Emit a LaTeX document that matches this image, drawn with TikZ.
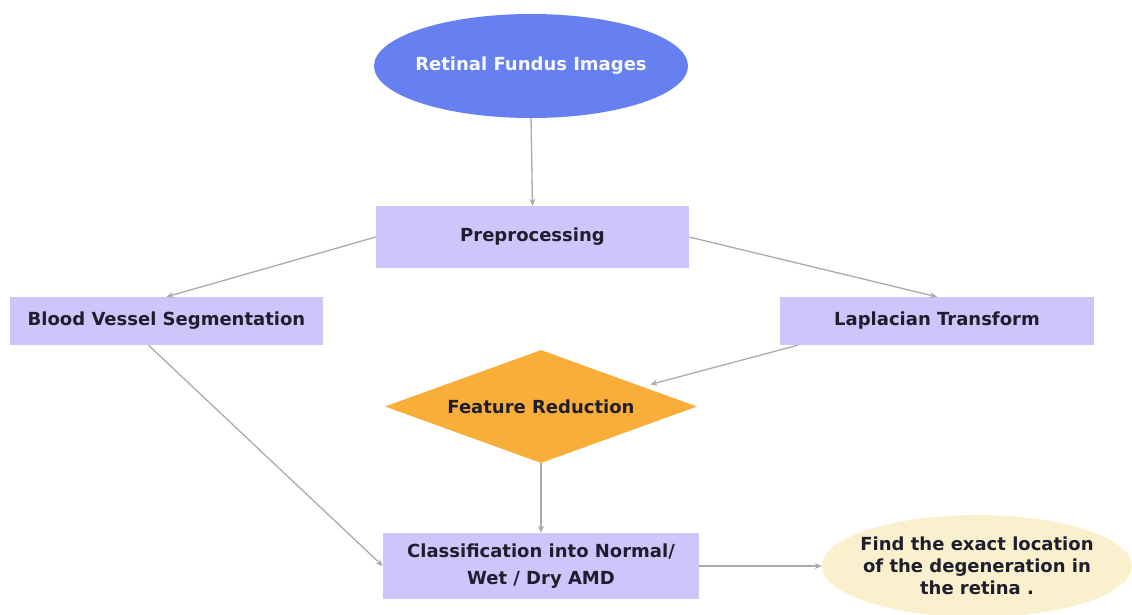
\documentclass[tikz,border=0pt]{standalone}
\usepackage{fontspec}
\setmainfont{DejaVu Sans}
\usetikzlibrary{shapes.geometric,arrows.meta,calc}
\definecolor{ovalblue}{HTML}{6680F2}
\definecolor{lav}{HTML}{CCC6FB}
\definecolor{orng}{HTML}{F8AE38}
\definecolor{cream}{HTML}{FAF0CD}
\definecolor{txt}{HTML}{1E1E2E}
\definecolor{conn}{HTML}{ABABAB}
\tikzset{
  lbl/.style={font=\fontsize{18}{27}\selectfont\bfseries, text=txt, align=center},
  boxnode/.style={lbl, fill=lav, draw=none, rectangle, inner sep=0pt},
  oval/.style={lbl, ellipse, inner xsep=-30pt, inner ysep=-10pt},
  conn/.style={draw=conn, line width=1.3pt, -{Stealth[length=7pt,width=6pt]}}
}
\begin{document}
\begin{tikzpicture}[x=1pt,y=-1pt]
\useasboundingbox (0,0) rectangle (1132,614);
\clip (0,0) rectangle (1132,614);
\node[oval, fill=ovalblue, minimum width=314pt, minimum height=104pt, text=white!95!ovalblue] (img) at (531,66) {Retinal Fundus Images};
\node[boxnode, minimum width=313pt, minimum height=62pt] (pre) at (532.5,237) {Preprocessing};
\node[boxnode, minimum width=313pt, minimum height=48pt] (bvs) at (166.5,321) {Blood Vessel Segmentation};
\node[boxnode, minimum width=314pt, minimum height=48pt] (lap) at (937,321) {Laplacian Transform};
\node[diamond, fill=orng, lbl, inner sep=0pt, minimum width=312pt, minimum height=113pt, aspect=2.76] (fr) at (541,406.5) {Feature Reduction};
\node[boxnode, minimum width=316pt, minimum height=66pt, text depth=3pt] (cls) at (541,566) {Classification into Normal/\\Wet / Dry AMD};
\node[oval, fill=cream, minimum width=310pt, minimum height=102pt, font=\fontsize{18}{22}\selectfont\bfseries] (loc) at (977,566) {Find the exact location\\of the degeneration in\\the retina .};
\coordinate (lapout) at ([xshift=18pt]lap.south west);
\coordinate (frin) at ($(fr.north)!0.7!(fr.east)+(0,-5)$);
\coordinate (bvsout) at ([xshift=-18pt]bvs.south);
\draw[conn] (pre.west) -- (bvs.north);
\draw[conn] (pre.east) -- (lap.north);
\draw[conn] (img.south) -- (pre.north);
\draw[conn] (lapout) -- (frin);
\draw[conn] (bvsout) -- (cls.west);
\draw[conn] (fr.south) -- (cls.north);
\draw[conn] (cls.east) -- (loc.west);
\end{tikzpicture}
\end{document}
